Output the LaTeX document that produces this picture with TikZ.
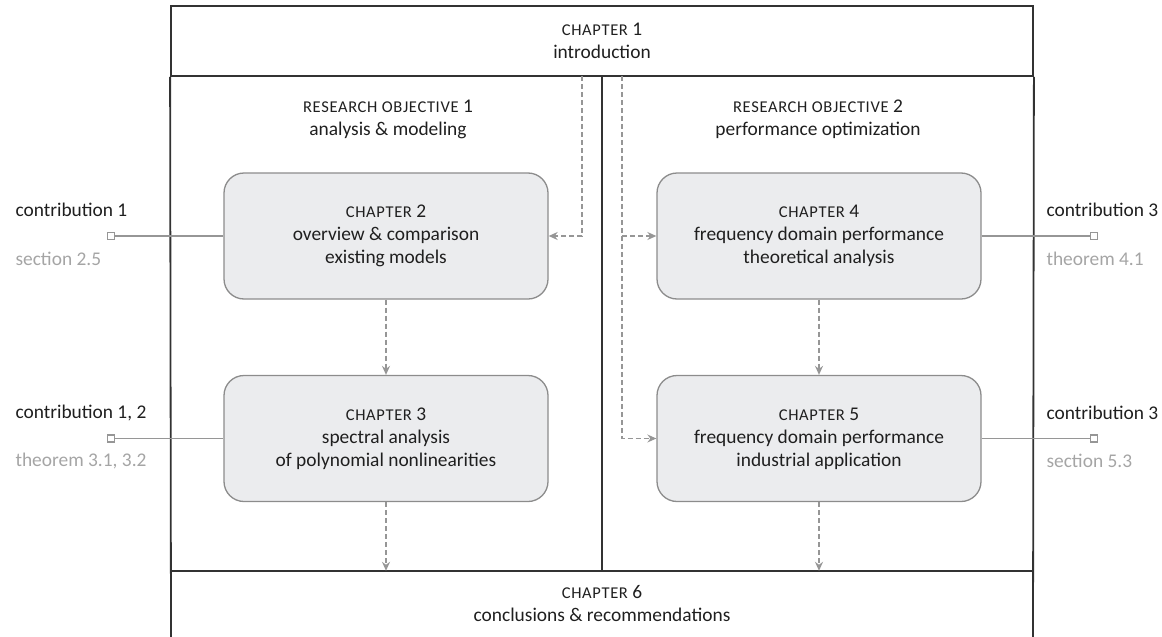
\documentclass[tikz,border=0pt]{standalone}
\usepackage{fontspec}
\setmainfont{Carlito}
\usetikzlibrary{arrows.meta}
\definecolor{chapfill}{RGB}{235,236,238}
\definecolor{chapline}{RGB}{140,140,140}
\definecolor{flowgray}{RGB}{150,150,150}
\definecolor{framegray}{RGB}{50,50,50}
\definecolor{notegray}{RGB}{165,165,165}
\newcommand{\chaphead}[1]{{\fontsize{16.5}{18}\selectfont\addfontfeature{LetterSpace=4}CHAPTER}~#1}
\newcommand{\objhead}[1]{{\fontsize{16.5}{18}\selectfont\addfontfeature{LetterSpace=4}RESEARCH OBJECTIVE}~#1}

\begin{document}
\begin{tikzpicture}[x=1pt, y=-1pt, every node/.style={font=\fontsize{19.4}{23}\selectfont, align=center, text=black!88},
  chapbox/.style={draw=chapline, fill=chapfill, line width=1.3pt, rounded corners=20pt, minimum width=324pt, minimum height=126pt},
  flow/.style={draw=flowgray, dash pattern=on 5pt off 3pt, line width=1.3pt, -{Stealth[length=9pt, width=8pt, inset=3pt]}},
  link/.style={draw=flowgray, line width=1.3pt},
  pin/.style={draw=flowgray, fill=white, line width=1.2pt, minimum size=7pt, inner sep=0pt},
  note/.style={anchor=west, text=notegray}]
  \useasboundingbox (0,0) rectangle (1162,637);
  % frame
  \node[draw=framegray, line width=1.8pt, minimum width=862pt, minimum height=70pt] (ch1) at (602,41) {\chaphead{1}\\introduction};
  \draw[framegray, line width=1.8pt] (ch1.south west) -- (171,637) (ch1.south east) -- (1033,637);
  \draw[framegray, line width=1.8pt] (171,571) -- (1033,571) (602,76) -- (602,571);
  \node[minimum width=862pt, minimum height=66pt] (ch6) at (602,604) {\chaphead{6}\\conclusions \& recommendations};
  % research objectives
  \node (ro1) at (388,119) {\objhead{1}\\analysis \& modeling};
  \node (ro2) at (818,119) {\objhead{2}\\performance optimization};
  % chapters
  \node[chapbox] (ch2) at (386,236) {\chaphead{2}\\overview \& comparison\\existing models};
  \node[chapbox] (ch3) at (386,438.5) {\chaphead{3}\\spectral analysis\\of polynomial nonlinearities};
  \node[chapbox] (ch4) at (819,236) {\chaphead{4}\\frequency domain performance\\theoretical analysis};
  \node[chapbox] (ch5) at (819,438.5) {\chaphead{5}\\frequency domain performance\\industrial application};
  % flow
  \coordinate (splitL) at (582,76);
  \coordinate (splitR) at (622,76);
  \draw[flow] (splitL) |- (ch2.east);
  \draw[flow] (splitR) |- (ch5.west);
  \draw[flow] (splitR |- ch4.west) -- (ch4.west);
  \draw[flow] (ch2) -- (ch3);
  \draw[flow] (ch4) -- (ch5);
  \draw[flow] (ch3.south) -- (ch3.south |- ch6.north);
  \draw[flow] (ch5.south) -- (ch5.south |- ch6.north);
  % contributions
  \node[anchor=west] (c1) at (12,210) {contribution 1};
  \node[note] (s1) at (12,259) {section 2.5};
  \node[pin] (p1) at (111,236) {};
  \node[anchor=west] (c2) at (12,413) {contribution 1, 2};
  \node[note] (s2) at (12,461) {theorem 3.1, 3.2};
  \node[pin] (p2) at (111,438.5) {};
  \node[anchor=west] (c3) at (1043,210) {contribution 3};
  \node[note] (s3) at (1043,259) {theorem 4.1};
  \node[pin] (p3) at (1094,236) {};
  \node[anchor=west] (c4) at (1043,413) {contribution 3};
  \node[note] (s4) at (1043,461) {section 5.3};
  \node[pin] (p4) at (1094,438.5) {};
  \draw[link] (p1) -- (ch2);
  \draw[link] (p2) -- (ch3);
  \draw[link] (ch4) -- (p3);
  \draw[link] (ch5) -- (p4);
\end{tikzpicture}
\end{document}
